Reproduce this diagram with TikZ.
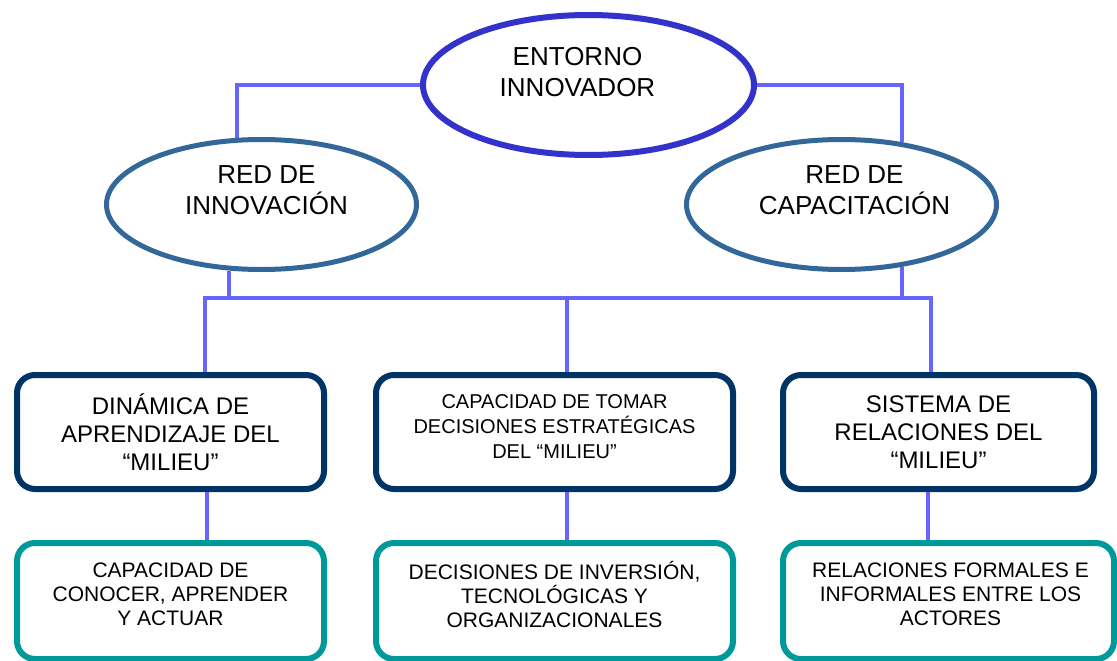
\documentclass[tikz,border=0pt]{standalone}
\usepackage{fontspec}
\setmainfont{Liberation Sans}
\usepackage{tikz}
\usetikzlibrary{shapes.geometric}

\definecolor{linkblue}{HTML}{6666FF}
\definecolor{topblue}{HTML}{3333CC}
\definecolor{netblue}{HTML}{336699}
\definecolor{navyc}{HTML}{003366}
\definecolor{tealc}{HTML}{009999}

\begin{document}
\begin{tikzpicture}[
    x=1pt, y=-1pt,
    conn/.style={draw=linkblue, line width=4pt},
    topell/.style={ellipse, draw=topblue, line width=6pt, fill=white,
      minimum width=331pt, minimum height=140pt, inner sep=0pt},
    netell/.style={ellipse, draw=netblue, line width=5pt, fill=white,
      minimum width=310pt, minimum height=130pt, inner sep=0pt},
    elltxt/.style={align=center, font=\fontsize{26pt}{31pt}\selectfont},
    midbox/.style={draw=navyc, line width=6pt, rounded corners=18pt, fill=white,
      minimum height=114pt, align=center, inner sep=0pt},
    lowbox/.style={draw=tealc, line width=6pt, rounded corners=18pt, fill=white,
      minimum height=116pt, inner sep=0pt},
    lowtxt/.style={align=center, yshift=7pt, font=\fontsize{21pt}{24pt}\selectfont},
  ]
  \useasboundingbox (0,0) rectangle (1117,661);

  %% ---- networks -----------------------------------------------------
  \node[topell, label={[elltxt, xshift=-11pt, yshift=13pt]center:ENTORNO\\INNOVADOR}]
    (entorno) at (588.5,85) {};
  \node[netell, label={[elltxt, xshift=5pt, yshift=14pt]center:RED DE\\INNOVACIÓN}]
    (redinn) at (261.5,204.5) {};
  \node[netell, label={[elltxt, xshift=13pt, yshift=14pt]center:RED DE\\CAPACITACIÓN}]
    (redcap) at (841.5,204.5) {};

  %% ---- milieu boxes -------------------------------------------------
  \node[midbox, minimum width=307pt, font=\fontsize{24pt}{28pt}\selectfont]
    (dinamica) at (170.5,432) {DINÁMICA DE\\APRENDIZAJE DEL\\“MILIEU”};
  \node[midbox, minimum width=357pt,
    label={[align=center, yshift=5pt, font=\fontsize{20pt}{25pt}\selectfont]center:CAPACIDAD DE TOMAR\\DECISIONES ESTRATÉGICAS\\DEL “MILIEU”}]
    (decision) at (554.5,432) {};
  \node[midbox, minimum width=311pt, font=\fontsize{24pt}{28pt}\selectfont]
    (sistema) at (938.5,432) {SISTEMA DE\\RELACIONES DEL\\“MILIEU”};

  \node[lowbox, minimum width=307pt,
    label={[lowtxt]center:CAPACIDAD DE\\CONOCER, APRENDER\\Y ACTUAR}]
    (conocer) at (170.5,601) {};
  \node[lowbox, minimum width=357pt,
    label={[lowtxt]center:DECISIONES DE INVERSIÓN,\\TECNOLÓGICAS Y\\ORGANIZACIONALES}]
    (inversion) at (554.5,601) {};
  \node[lowbox, minimum width=331pt,
    label={[lowtxt, xshift=2pt]center:RELACIONES FORMALES E\\INFORMALES ENTRE LOS\\ACTORES}]
    (actores) at (948.5,601) {};

  %% ---- connectors ---------------------------------------------------
  \coordinate (bus) at (0,298);
  \coordinate (tapA) at ([xshift=34pt]dinamica.north);
  \coordinate (tapB) at ([xshift=12pt]decision.north);
  \coordinate (tapC) at ([xshift=-8pt]sistema.north);

  \draw[conn] (entorno.west) -| (redinn.110);
  \draw[conn] (entorno.east) -| (redcap.46);
  \draw[conn] (redinn.244) -- (redinn.244 |- bus);
  \draw[conn] (redcap.314) -- (redcap.314 |- bus);
  \draw[conn] (tapA) |- (tapC |- bus) -- (tapC);
  \draw[conn] (tapB) -- (tapB |- bus);

  \draw[conn] ([xshift=36pt]dinamica.south) -- ([xshift=36pt]dinamica.south |- conocer.north);
  \draw[conn] ([xshift=12pt]decision.south) -- ([xshift=12pt]decision.south |- inversion.north);
  \draw[conn] ([xshift=-11pt]sistema.south) -- ([xshift=-11pt]sistema.south |- actores.north);
\end{tikzpicture}
\end{document}
